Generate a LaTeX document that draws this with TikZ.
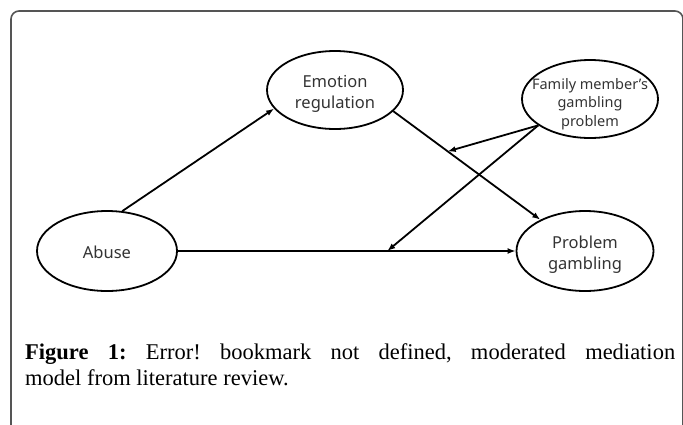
\documentclass[tikz,border=0pt]{standalone}
\usepackage{fontspec}
\setmainfont{Liberation Serif}
\newfontfamily\labelfont{Noto Sans}
\usetikzlibrary{shapes.geometric,arrows.meta}
\definecolor{framegray}{HTML}{555555}
\definecolor{labelgray}{HTML}{333333}
\begin{document}
\begin{tikzpicture}[x=1pt,y=-1pt,
  construct/.style={ellipse,draw,line width=1.8pt,inner sep=0pt,
    minimum width=136pt,minimum height=78pt},
  caption text/.style={align=center,inner sep=0pt,text=labelgray,
    font=\labelfont\fontsize{16.5}{21}\selectfont},
  small caption text/.style={caption text,
    font=\labelfont\fontsize{14.5}{18.5}\selectfont},
  link/.style={line width=1.8pt,-{Latex[length=8pt,width=6pt]}}]
\useasboundingbox (0,0) rectangle (683,424);
% outer frame, open at the bottom
\draw[framegray,line width=1.6pt,rounded corners=8pt]
  (11,440) -- (11,11) -- (683,11) -- (683,440);
% constructs
\node[construct] (emo) at (335,90) {};
\node[caption text] (emotext) at (335,93.5) {Emotion\\regulation};
\node[construct] (fam) at (590,99) {};
\node[small caption text] (famtext) at (590,104) {Family member’s\\gambling\\problem};
\node[construct,minimum width=140pt,minimum height=80pt] (abuse) at (107,251) {};
\node[caption text] (abusetext) at (107,252) {Abuse};
\node[construct,minimum width=137pt,minimum height=80pt] (prob) at (585,251) {};
\node[caption text] (probtext) at (585,255) {Problem\\gambling};
% mediation paths
\draw[link] (abuse.69) -- (emo.197);
\draw[link] (emo.-20) -- coordinate[pos=0.37] (modA) (prob.145);
\draw[link] (abuse.east) -- coordinate[pos=0.62] (modB) (prob.west);
% moderation paths
\draw[link] (fam.207) -- (modA);
\draw[link] (fam.207) -- (modB);
% figure caption
\node[anchor=north west,inner sep=0pt,text width=650pt,align=justify,
  font=\fontsize{22.5}{26}\selectfont\frenchspacing] (cap) at (25,343)
  {\textbf{Figure 1:} Error! bookmark not defined, moderated mediation\linebreak
   model from literature review.};
\end{tikzpicture}
\end{document}
